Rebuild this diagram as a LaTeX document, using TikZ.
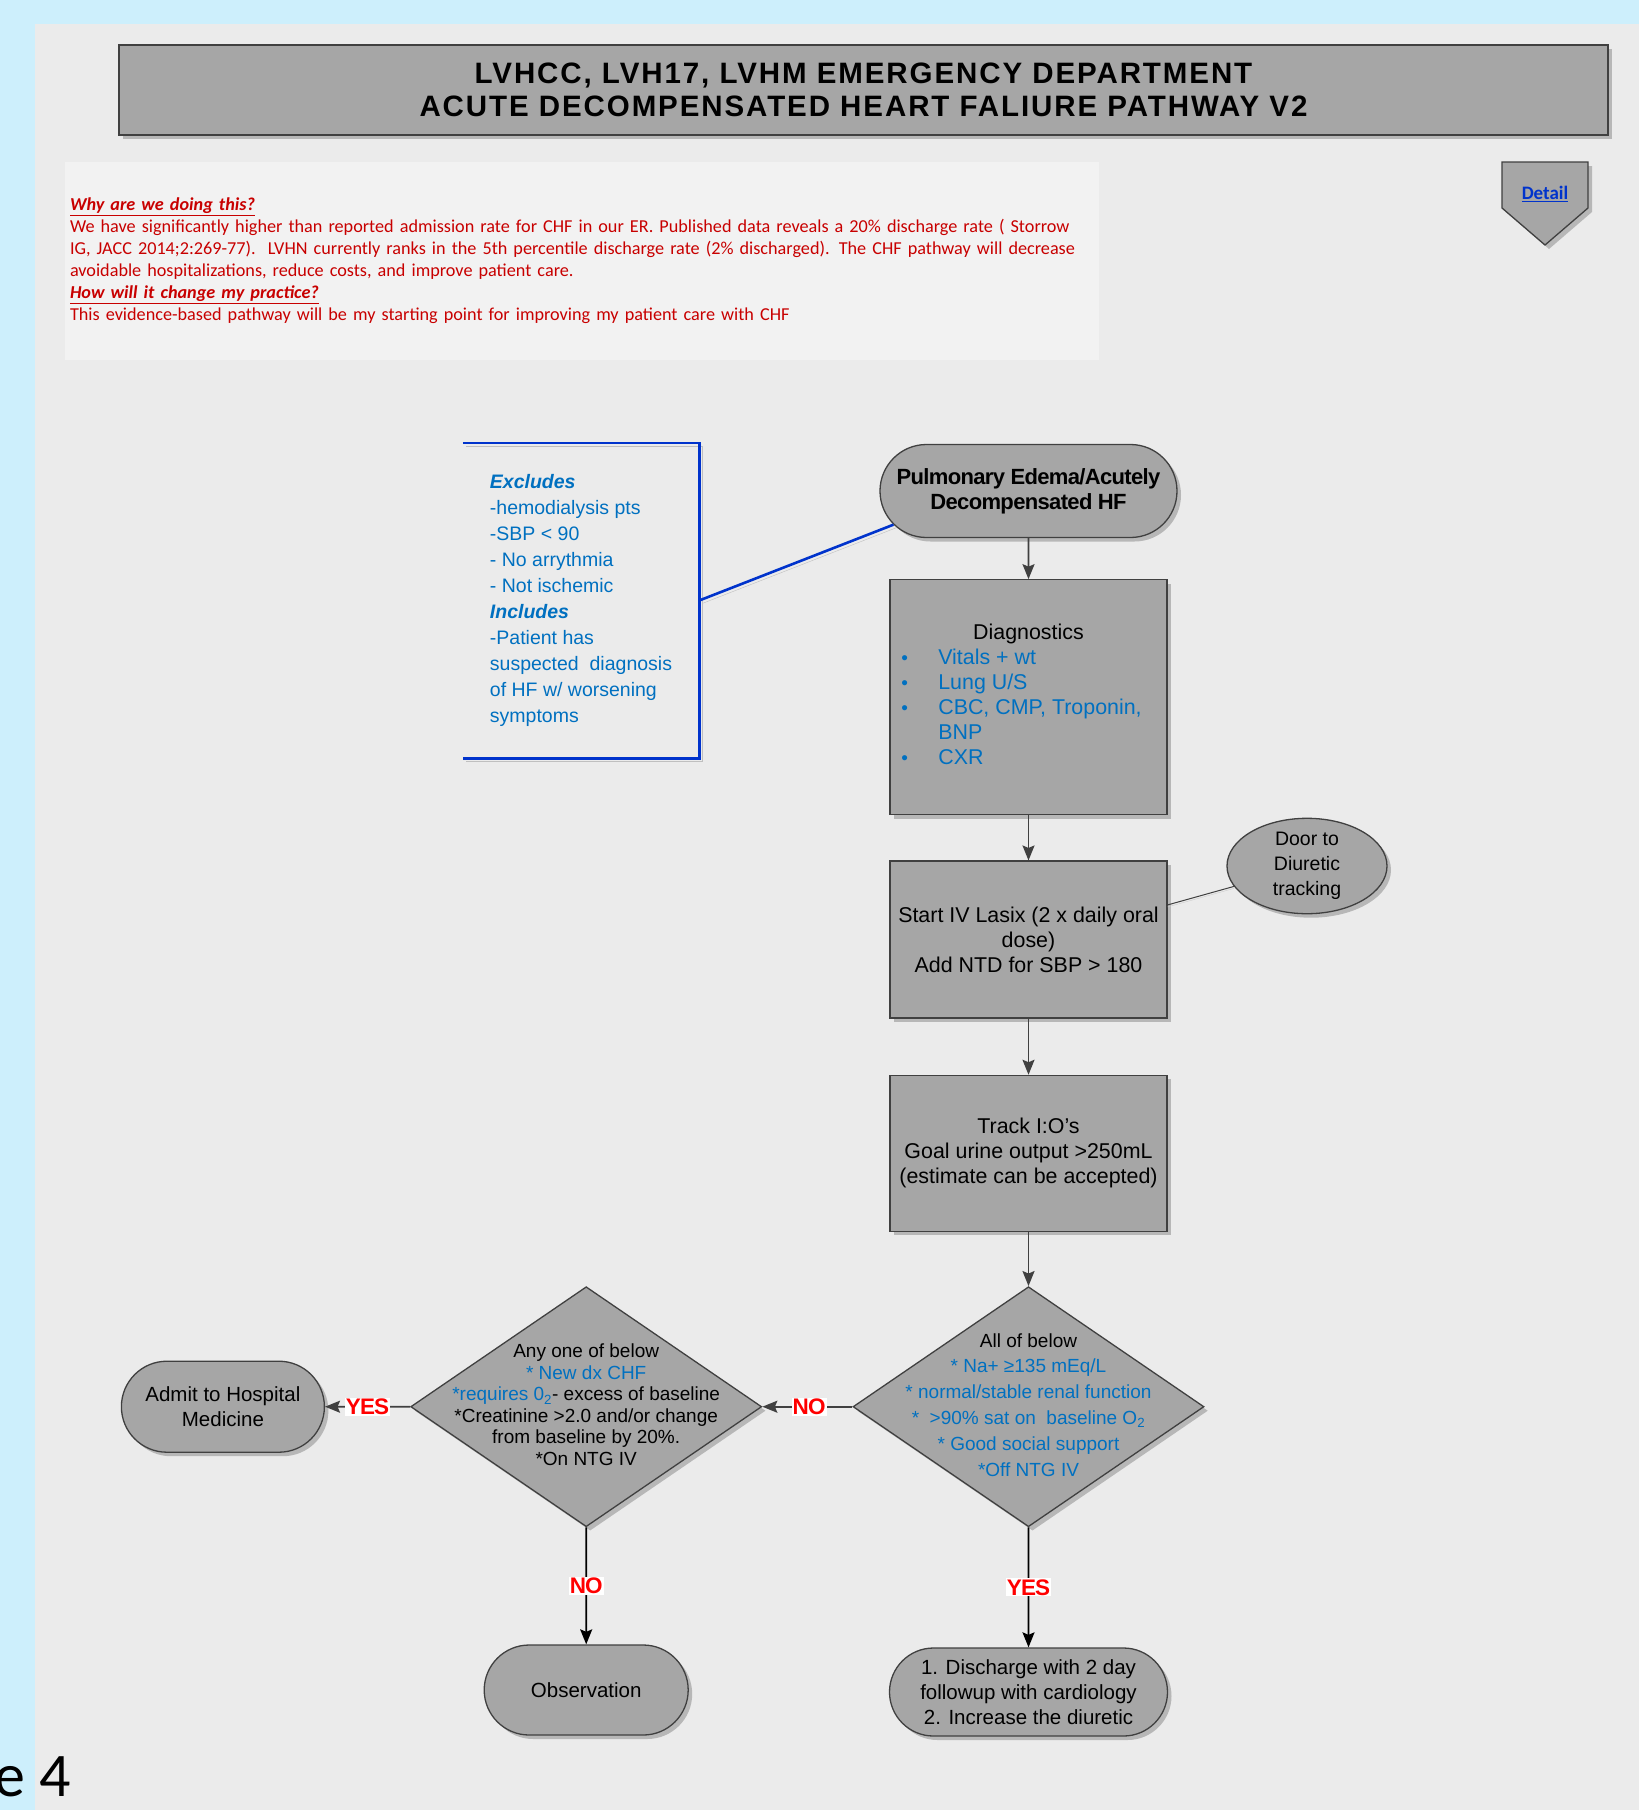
\documentclass[tikz,border=0pt]{standalone}
\usepackage{fontspec}
\setmainfont{Liberation Sans}
\newfontfamily\notefont{Carlito}
\newfontfamily\titlefont{Liberation Sans}[LetterSpace=6.5]
\usetikzlibrary{arrows.meta,shapes.geometric,shapes.misc,positioning,shadows}

\definecolor{skyblue}{RGB}{205,239,252}
\definecolor{panelgray}{RGB}{235,235,235}
\definecolor{notegray}{RGB}{242,242,242}
\definecolor{boxgray}{RGB}{166,166,166}
\definecolor{edgegray}{RGB}{64,64,64}
\definecolor{notered}{RGB}{200,0,0}
\definecolor{itemblue}{RGB}{0,112,192}
\definecolor{linkblue}{RGB}{0,51,204}
\definecolor{yesred}{RGB}{255,0,0}

\newcommand{\sz}[2]{\fontsize{#1}{#2}\selectfont}

\begin{document}
\begin{tikzpicture}[x=1pt, y=-1pt,
  dropsh/.style={drop shadow={shadow xshift=4pt, shadow yshift=-4pt, fill=black, opacity=0.22}},
  block/.style={draw=edgegray, fill=boxgray, line width=1.3pt, dropsh, rectangle,
                minimum width=277pt, align=center, inner sep=4pt, font=\sz{21.4}{25}},
  term/.style={draw=edgegray, fill=boxgray, line width=1.3pt, dropsh, rounded rectangle,
               align=center, inner sep=4pt, font=\sz{20.5}{25}},
  decide/.style={draw=edgegray, fill=boxgray, line width=1.3pt, dropsh, diamond,
                 minimum width=351pt, minimum height=240pt, inner sep=0pt},
  arr/.style={-{Stealth[length=15pt,width=12pt,inset=2.5pt]}, line width=1.8pt, draw=edgegray},
  answer/.style={fill=white, text=yesred, inner sep=1pt,
                 font=\sz{22.5}{22.5}\bfseries\addfontfeature{LetterSpace=-4}},
  bluelink/.style={draw=linkblue, line width=2.6pt,
                   preaction={draw=black!25, transform canvas={xshift=3pt, yshift=-3pt}}}
]
\useasboundingbox (0,0) rectangle (1639,1810);
\fill[skyblue] (0,0) rectangle (1639,1810);
\fill[panelgray] (35,24) rectangle (1639,1810);

% heading and notes
\node[draw=edgegray, fill=boxgray, line width=1.5pt, dropsh, minimum width=1489pt,
      minimum height=90pt, align=center, font=\titlefont\bfseries\sz{29.5}{33.5}]
      (title) at (863.5,90) {LVHCC, LVH17, LVHM EMERGENCY DEPARTMENT\\ACUTE DECOMPENSATED HEART FALIURE PATHWAY V2};
\node[fill=notegray, minimum width=1034pt, minimum height=198pt, text width=1024pt,
      inner sep=5pt, align=left, text=notered, font=\notefont\sz{18.2}{22}] (why) at (582,261)
  {\underline{\textbf{\textit{Why are we doing this?}}}\\
   We have significantly higher than reported admission rate for CHF in our ER. Published data reveals a 20\% discharge rate ( Storrow\\
   IG, JACC 2014;2:269-77).\ \ LVHN currently ranks in the 5th percentile discharge rate (2\% discharged). The CHF pathway will decrease\\
   avoidable hospitalizations, reduce costs, and improve patient care.\\
   \underline{\textbf{\textit{How will it change my practice?}}}\\
   This evidence-based pathway will be my starting point for improving my patient care with CHF};
\filldraw[draw=edgegray, fill=boxgray, line width=1.3pt, dropsh]
  (1502,162) -- (1588,162) -- (1588,208) -- (1545,245) -- (1502,208) -- cycle;
\node[text=linkblue, font=\notefont\bfseries\sz{19}{20}] (detail) at (1545,194) {\underline{Detail}};

% main flow
\node[term, minimum width=305pt, minimum height=93pt,
      font=\sz{22}{25}\bfseries\addfontfeature{LetterSpace=-3}] (pulm) at (1028.5,491)
      {Pulmonary Edema/Acutely\\Decompensated HF};
\node[block, below=41pt of pulm, minimum height=235pt] (diag)
  {\begin{tabular}{@{}p{37pt}@{}l@{}p{14pt}@{}}
   \multicolumn{3}{@{}c@{}}{Diagnostics}\\
   \textcolor{itemblue}{\sz{19}{25}•} & \textcolor{itemblue}{Vitals + wt} &\\
   \textcolor{itemblue}{\sz{19}{25}•} & \textcolor{itemblue}{Lung U/S} &\\
   \textcolor{itemblue}{\sz{19}{25}•} & \textcolor{itemblue}{CBC, CMP, Troponin,} &\\
    & \textcolor{itemblue}{BNP} &\\
   \textcolor{itemblue}{\sz{19}{25}•} & \textcolor{itemblue}{CXR} &
   \end{tabular}};
\node[block, below=45pt of diag, minimum height=157pt] (lasix)
  {Start IV Lasix (2 x daily oral\\dose)\\Add NTD for SBP > 180};
\node[block, below=56pt of lasix, minimum height=156pt] (track)
  {Track I:O's\\Goal urine output >250mL\\(estimate can be accepted)};
\node[decide, below=54pt of track,
      label={[align=center, font=\sz{19}{25.8}, yshift=2pt]center:{All of below\\
        \textcolor{itemblue}{* Na+ ≥135 mEq/L}\\
        \textcolor{itemblue}{* normal/stable renal function}\\
        \textcolor{itemblue}{*\ \ >90\% sat on\ \ baseline O\textsubscript{2}}\\
        \textcolor{itemblue}{* Good social support}\\
        \textcolor{itemblue}{*Off NTG IV}}}] (allb) {};
\node[decide, left=90pt of allb,
      label={[align=center, font=\sz{19}{21.6}, yshift=2pt]center:{Any one of below\\
        \textcolor{itemblue}{* New dx CHF}\\
        \textcolor{itemblue}{*requires 0\textsubscript{2}}- excess of baseline\\
        *Creatinine >2.0 and/or change\\
        from baseline by 20\%.\\
        *On NTG IV}}] (anyb) {};
\node[term, left=85pt of anyb, minimum width=211pt, minimum height=91pt] (admit)
  {Admit to Hospital\\Medicine};
\node[term, below=117pt of anyb, minimum width=212pt, minimum height=90pt] (obs) {Observation};
\node[term, below=120pt of allb, minimum width=286pt, minimum height=88pt] (disch)
  {1. Discharge with 2 day\\followup with cardiology\\2. Increase the diuretic};
\node[ellipse, draw=edgegray, fill=boxgray, line width=1.3pt, dropsh, minimum width=160pt,
      minimum height=92pt, inner sep=0pt, align=center, font=\sz{19.5}{25}] (door) at (1307,866)
  {Door to\\Diuretic\\tracking};

% patient selection
\node[minimum width=236pt, minimum height=315pt, align=left, text=itemblue,
      font=\sz{19.5}{26}] (excl) at (581,600.5)
  {\textbf{\textit{Excludes}}\\-hemodialysis pts\\-SBP < 90\\- No arrythmia\\- Not ischemic\\
   \textbf{\textit{Includes}}\\-Patient has\\suspected\ \ diagnosis\\of HF w/ worsening\\symptoms};
\draw[bluelink] (excl.north west) -- (excl.north east) -- (excl.south east) -- (excl.south west);
\draw[bluelink] (excl.east) -- (pulm.194);

\draw[arr] (pulm) -- (diag);
\draw[arr] (diag) -- (lasix);
\draw[arr] (lasix) -- (track);
\draw[arr] (track) -- (allb);
\draw[edgegray, line width=1pt, preaction={draw=black!20, transform canvas={yshift=-2pt}}]
  (lasix.14) -- (door);
\draw[arr] (allb) -- node[answer, pos=0.48] {NO} (anyb);
\draw[arr] (anyb) -- node[answer] {YES} (admit);
\draw[arr, draw=black] (anyb) -- node[answer] {NO} (obs);
\draw[arr, draw=black] (allb) -- node[answer] {YES} (disch);

\node[anchor=base west, inner sep=0pt, font=\notefont\sz{62}{62}] (pagenum) at (-6,1796) {e 4};
\end{tikzpicture}
\end{document}
